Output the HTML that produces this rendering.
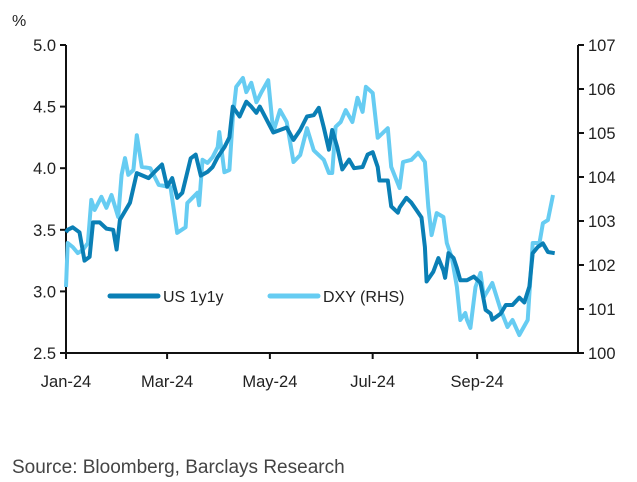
<!DOCTYPE html>
<html><head><meta charset="utf-8"><style>
body{margin:0;background:#fff;width:637px;height:482px;overflow:hidden}
svg{display:block;font-family:"Liberation Sans",sans-serif}
</style></head><body>
<svg id="chart" width="637" height="482">
<text x="12" y="26" font-size="16" fill="#222">%</text>
<g id="axes"></g>
<g id="series"></g>
<g>
<line x1="110" y1="296" x2="158" y2="296" stroke="#0a7fb5" stroke-width="5" stroke-linecap="round"/>
<text x="163" y="302" font-size="16" fill="#222">US 1y1y</text>
<line x1="270" y1="296" x2="318" y2="296" stroke="#66ccf2" stroke-width="5" stroke-linecap="round"/>
<text x="323" y="302" font-size="16" fill="#222">DXY (RHS)</text>
</g>
<text x="12" y="473" font-size="19" fill="#444">Source: Bloomberg, Barclays Research</text>
</svg>
<script>
const xTickLabels=["Jan-24","Mar-24","May-24","Jul-24","Sep-24"];
const xTickDays=[0,60,121,182,244];
const leftTicks=[2.5,3.0,3.5,4.0,4.5,5.0];
const rightTicks=[100,101,102,103,104,105,106,107];
const usDays=[0,1,4,8,11,14,16,20,24,28,30,32,38,42,49,54,57,60,63,66,69,74,77,80,84,87,90,94,97,99,103,107,110,113,115,123,131,135,139,143,147,150,153,156,158,161,164,168,171,176,179,182,185,186,191,193,197,198,202,205,208,211,213,214,218,221,224,225,227,230,232,234,238,242,246,249,252,253,258,261,265,269,272,275,277,280,283,286,290];
const usVals=[3.48,3.50,3.52,3.48,3.25,3.28,3.56,3.56,3.51,3.50,3.34,3.58,3.72,3.96,3.92,3.99,4.03,3.85,3.92,3.76,3.80,4.08,4.11,3.94,3.97,4.01,4.09,4.17,4.25,4.50,4.42,4.54,4.50,4.45,4.50,4.29,4.33,4.23,4.31,4.42,4.43,4.49,4.33,4.15,4.31,4.17,3.99,4.07,4.00,4.01,4.11,4.13,4.01,3.90,3.90,3.69,3.64,3.68,3.76,3.72,3.66,3.60,3.36,3.08,3.16,3.27,3.17,3.11,3.31,3.27,3.19,3.09,3.09,3.12,3.07,2.85,2.82,2.77,2.82,2.89,2.89,2.95,2.91,3.04,3.31,3.36,3.39,3.32,3.31];
const dxyDays=[0,1,4,7,10,13,15,17,21,24,27,31,33,35,37,40,42,45,50,55,62,66,71,72,78,79,81,84,87,90,91,94,97,99,101,105,107,110,113,116,120,123,127,131,135,139,143,147,148,153,156,158,160,163,166,170,173,176,178,182,185,191,193,198,200,205,209,213,215,217,220,224,226,229,232,234,237,238,240,243,246,248,253,258,262,265,269,274,277,281,283,286,289];
const dxyVals=[101.50,102.50,102.41,102.27,102.34,102.50,103.48,103.25,103.55,103.30,103.59,103.09,104.05,104.43,104.05,104.16,104.95,104.23,104.20,103.82,103.77,102.73,102.86,103.41,103.64,103.36,104.39,104.32,104.45,104.68,105.02,104.11,104.16,105.34,106.05,106.25,105.93,106.14,105.70,105.93,106.20,105.02,105.52,105.25,104.34,104.50,105.11,104.61,104.57,104.39,104.09,104.09,105.14,105.25,105.52,105.25,105.80,105.48,106.05,105.91,104.89,105.11,104.23,103.75,104.34,104.39,104.55,104.34,103.32,102.68,103.18,103.09,102.50,102.16,101.50,100.75,100.91,100.75,100.57,101.50,101.82,101.27,101.59,100.98,100.59,100.75,100.41,100.75,102.50,102.50,102.95,103.02,103.59];

const NS="http://www.w3.org/2000/svg";
const X0=66,X1=578,Y0=45,Y1=353;
const xs=d=>X0+d*1.685;
const yl=v=>Y1-(v-2.5)/(5-2.5)*(Y1-Y0);
const yr=v=>Y1-(v-100)/(107-100)*(Y1-Y0);
function mk(tag,attrs,parent){const e=document.createElementNS(NS,tag);for(const k in attrs)e.setAttribute(k,attrs[k]);parent.appendChild(e);return e;}
const ax=document.getElementById('axes');
let a=mk('path',{d:`M${X0},${Y0}V${Y1}H${X1}V${Y0}`,fill:'none',stroke:'#111','stroke-width':2},ax);


leftTicks.forEach(v=>{const y=yl(v);
 const t=mk('line',{x1:X0-6,x2:X0,y1:y,y2:y,stroke:'#111','stroke-width':2},ax);
 
 
 const l=mk('text',{x:X0-10,y:y+6,'text-anchor':'end','font-size':16.5,fill:'#222'},ax);l.textContent=v.toFixed(1);
 
 });
rightTicks.forEach(v=>{const y=yr(v);
 const t=mk('line',{x1:X1,x2:X1+6,y1:y,y2:y,stroke:'#111','stroke-width':2},ax);
 
 
 const l=mk('text',{x:X1+10,y:y+6,'font-size':16.5,fill:'#222'},ax);l.textContent=v;
 
 });
xTickDays.forEach((d,i)=>{const x=xs(d);
 const t=mk('line',{x1:x,x2:x,y1:Y1,y2:Y1+6,stroke:'#111','stroke-width':2},ax);
 
 
 const l=mk('text',{x:x,y:Y1+34,'text-anchor':'middle','font-size':16.5,fill:'#222'},ax);l.textContent=xTickLabels[i];
 
 });
const sg=document.getElementById('series');
const pd=(days,vals,f)=>days.map((d,i)=>(i?'L':'M')+xs(d).toFixed(1)+','+f(vals[i]).toFixed(1)).join('');
const l2=mk('path',{d:pd(dxyDays,dxyVals,yr),fill:'none',stroke:'#66ccf2','stroke-width':4,'stroke-linejoin':'round'},sg);


const l1=mk('path',{d:pd(usDays,usVals,yl),fill:'none',stroke:'#0a7fb5','stroke-width':4,'stroke-linejoin':'round'},sg);


</script>
</body></html>
